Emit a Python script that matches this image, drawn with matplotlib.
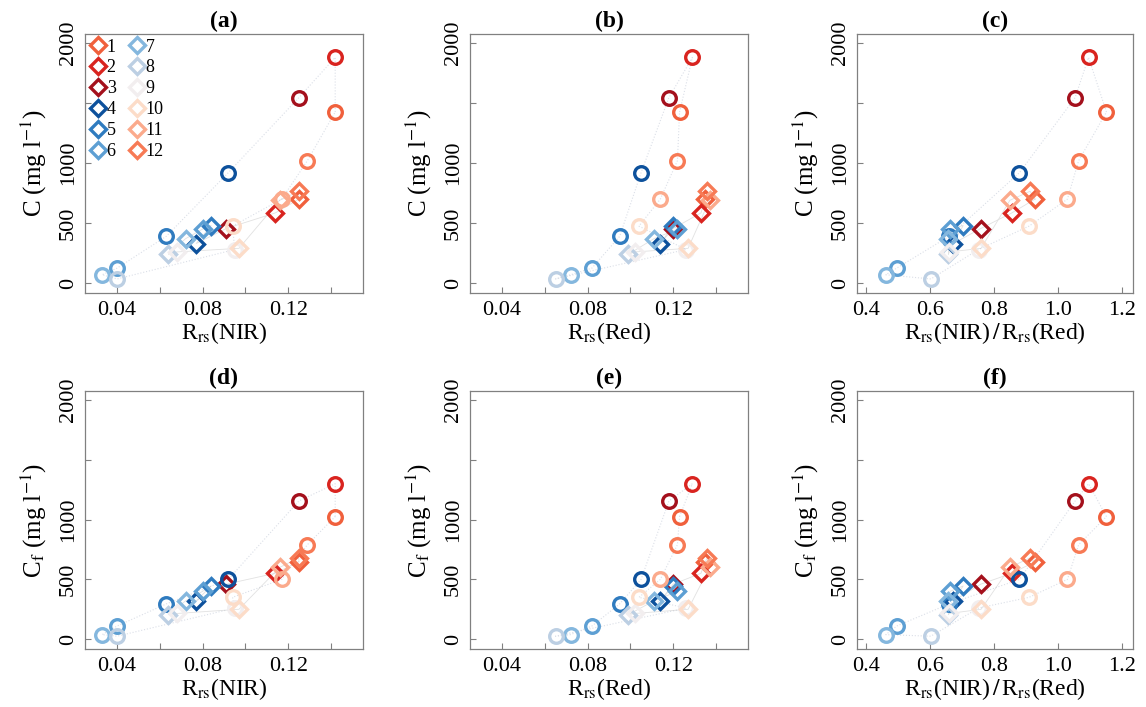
import numpy as np
import matplotlib
matplotlib.use("Agg")
import matplotlib.pyplot as plt
from matplotlib.lines import Line2D

plt.rcParams['font.family'] = 'serif'
plt.rcParams['font.serif'] = ['Liberation Serif', 'DejaVu Serif']
plt.rcParams['mathtext.fontset'] = 'stix'

# ---- data (months 1..12) ----
months = [str(m) for m in range(1, 13)]
month_colors = ['#f0603c', '#d9241f', '#a4101c', '#0d519c', '#2f7bbf', '#5d9fd3',
                '#84b7de', '#bccfe3', '#f2eeef', '#fcdcc8', '#fbaa8c', '#f77a55']

# circles
circ_nir = [0.142, 0.142, 0.125, 0.092, 0.063, 0.040, 0.033, 0.040, 0.095, 0.094, 0.117, 0.129]
circ_red = [0.123, 0.129, 0.118, 0.105, 0.095, 0.082, 0.072, 0.065, 0.126, 0.104, 0.114, 0.122]
circ_ratio = [1.152, 1.096, 1.054, 0.880, 0.660, 0.496, 0.462, 0.603, 0.752, 0.910, 1.030, 1.065]
circ_c = [1425, 1880, 1545, 920, 390, 125, 70, 35, 280, 475, 700, 1020]
circ_cf = [1025, 1300, 1155, 500, 295, 110, 38, 25, 260, 350, 500, 790]

# diamonds
dia_nir = [0.125, 0.114, 0.091, 0.077, 0.084, 0.080, 0.072, 0.064, 0.068, 0.097, 0.116, 0.125]
dia_red = [0.135, 0.133, 0.120, 0.114, 0.120, 0.122, 0.111, 0.099, 0.102, 0.127, 0.137, 0.136]
dia_ratio = [0.929, 0.856, 0.759, 0.673, 0.704, 0.663, 0.658, 0.658, 0.660, 0.760, 0.850, 0.913]
dia_c = [700, 585, 455, 330, 480, 450, 370, 240, 260, 290, 690, 765]
dia_cf = [648, 551, 460, 320, 445, 400, 320, 205, 215, 250, 600, 680]

panel_titles = ['(a)', '(b)', '(c)', '(d)', '(e)', '(f)']
x_labels = [r'R$_{\mathrm{rs}}$(NIR)', r'R$_{\mathrm{rs}}$(Red)',
            r'R$_{\mathrm{rs}}$(NIR)$\,/\,$R$_{\mathrm{rs}}$(Red)']
y_labels = [r'C (mg l$^{-1}$)', r'C$_{\mathrm{f}}$ (mg l$^{-1}$)']

W, H = 1146, 707
fig = plt.figure(figsize=(W / 100, H / 100), dpi=100)

lefts = [85, 470, 857]
widths = [278, 278, 276]
tops = [34, 391]
heights = [259, 258]

xs_c = [circ_nir, circ_red, circ_ratio]
xs_d = [dia_nir, dia_red, dia_ratio]
ys_c = [circ_c, circ_cf]
ys_d = [dia_c, dia_cf]

spine_col = '#808080'

for r in range(2):
    for c in range(3):
        ax = fig.add_axes([lefts[c] / W, 1 - (tops[r] + heights[r]) / H,
                           widths[c] / W, heights[r] / H])
        xc, xd = xs_c[c], xs_d[c]
        yc, yd = ys_c[r], ys_d[r]

        # faint connecting lines (month order)
        ax.plot(list(xc) + [xc[0]], list(yc) + [yc[0]], ls=':', lw=0.8,
                color='#c3cad8', alpha=0.6, zorder=1)
        ax.plot(list(xd) + [xd[0]], list(yd) + [yd[0]], ls='-', lw=0.6,
                color='#c4c4c4', alpha=0.5, zorder=1)

        for i in range(12):
            ax.plot(xc[i], yc[i], marker='o', ms=9.8, mew=2.4, mfc='none',
                    mec=month_colors[i], ls='none', zorder=3)
            ax.plot(xd[i], yd[i], marker='D', ms=8.5, mew=2.4, mfc='none',
                    mec=month_colors[i], ls='none', zorder=3)

        if c < 2:
            ax.set_xlim(0.025, 0.155)
            ax.set_xticks([0.04, 0.06, 0.08, 0.10, 0.12, 0.14])
            ax.set_xticklabels(['0.04', '', '0.08', '', '0.12', ''])
        else:
            ax.set_xlim(0.372, 1.235)
            ax.set_xticks([0.4, 0.6, 0.8, 1.0, 1.2])
            ax.set_xticklabels(['0.4', '0.6', '0.8', '1.0', '1.2'])
        ax.set_ylim(-82, 2075)
        ax.set_yticks([0, 500, 1000, 1500, 2000])
        ax.set_yticklabels(['0', '500', '1000', '', '2000'], rotation=90, va='center')

        ax.tick_params(direction='in', length=4, width=0.8, color=spine_col,
                       labelsize=16, pad=6)
        ax.tick_params(axis='y', pad=5)
        for s in ax.spines.values():
            s.set_color(spine_col)
            s.set_linewidth(0.9)

        ax.set_xlabel(x_labels[c], fontsize=17, labelpad=0)
        ax.set_ylabel(y_labels[r], fontsize=18, labelpad=7)
        ax.set_title(panel_titles[r * 3 + c], fontsize=17, fontweight='bold', pad=5)

        if r == 0 and c == 0:
            handles = [Line2D([], [], marker='D', ms=8.5, mew=2.4, mfc='none',
                              mec=month_colors[i], ls='none') for i in range(12)]
            ax.legend(handles, months, ncol=2, loc='upper left', frameon=False,
                      fontsize=13, handlelength=0.9, handletextpad=0.05,
                      columnspacing=0.7, labelspacing=0.22, borderaxespad=0.05,
                      borderpad=0.2)

fig.savefig('out.png', dpi=100)
